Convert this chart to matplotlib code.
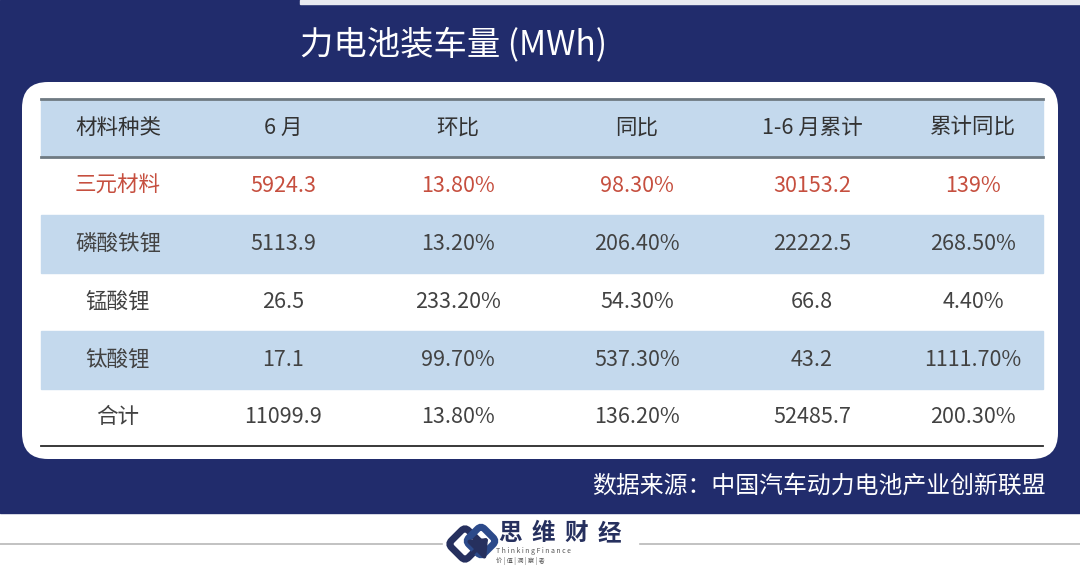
import matplotlib
matplotlib.use("Agg")
import matplotlib.pyplot as plt
from matplotlib.patches import Rectangle, FancyBboxPatch, FancyArrowPatch
from matplotlib.transforms import Affine2D

plt.rcParams['font.family'] = ['Noto Sans CJK SC', 'DejaVu Sans']

# table data
title = "力电池装车量 (MWh)"
headers = ["材料种类", "6 月", "环比", "同比", "1-6 月累计", "累计同比"]
materials = ["三元材料", "磷酸铁锂", "锰酸锂", "钛酸锂", "合计"]
june = ["5924.3", "5113.9", "26.5", "17.1", "11099.9"]
mom = ["13.80%", "13.20%", "233.20%", "99.70%", "13.80%"]
yoy = ["98.30%", "206.40%", "54.30%", "537.30%", "136.20%"]
ytd = ["30153.2", "22222.5", "66.8", "43.2", "52485.7"]
ytd_yoy = ["139%", "268.50%", "4.40%", "1111.70%", "200.30%"]
source = "数据来源：中国汽车动力电池产业创新联盟"
brand = "思维财经"

navy = "#212c6c"
light_blue = "#c4d9ed"
red = "#c64f3f"
text_gray = "#424242"

W, H = 1080, 568
fig = plt.figure(figsize=(W / 100, H / 100), dpi=100)
ax = fig.add_axes([0, 0, 1, 1])
ax.set_xlim(0, W)
ax.set_ylim(H, 0)
ax.axis("off")

# background
ax.add_patch(Rectangle((0, 0), W, 513, color=navy, zorder=0))
ax.add_patch(Rectangle((300, 0), W - 300, 4, color="#e8eaf0", zorder=1))

ax.text(300, 45, title, color="white", fontsize=24, ha="left", va="center")

# white rounded panel
ax.add_patch(FancyBboxPatch((22, 82), 1036, 377,
                            boxstyle="round,pad=0,rounding_size=26",
                            facecolor="white", edgecolor="none", zorder=1))

# table
left, right = 41, 1043
top, row_h = 99, 57.9
col_x = [118, 283, 458, 637, 812, 973]
columns = [materials, june, mom, yoy, ytd, ytd_yoy]
n_rows = len(materials) + 1

# header + every other row shaded
for i in range(0, n_rows, 2):
    ax.add_patch(Rectangle((left, top + i * row_h), right - left, row_h,
                           color=light_blue, zorder=2))

ax.plot([left, right], [top, top], color="#6f7a82", lw=2, zorder=3)
ax.plot([left, right], [top + row_h, top + row_h], color="#6f7a82", lw=2, zorder=3)
ax.plot([left, right], [top + n_rows * row_h, top + n_rows * row_h],
        color="#2a2a2a", lw=1.3, zorder=3)

for j, h in enumerate(headers):
    ax.text(col_x[j], top + row_h / 2, h, fontsize=15.5, color="#333333",
            ha="center", va="center", zorder=4)

for r in range(len(materials)):
    yc = top + (r + 1.5) * row_h
    c = red if r == 0 else text_gray
    for j, col in enumerate(columns):
        ax.text(col_x[j], yc, col[r], fontsize=15.5, color=c,
                ha="center", va="center", fontweight="light", zorder=4)

ax.text(1046, 486, source, color="white", fontsize=17.2, ha="right", va="center")

# footer logo strip
ax.plot([0, 442], [544, 544], color="#b8b8b8", lw=1.2)
ax.plot([640, W], [544, 544], color="#b8b8b8", lw=1.2)

logo_c = "#26305e"
ax.add_patch(FancyBboxPatch((453, 532), 24, 24, boxstyle="round,pad=0,rounding_size=5",
                            facecolor="none", edgecolor=logo_c, lw=5,
                            transform=Affine2D().rotate_deg_around(465, 544, 45) + ax.transData))
ax.add_patch(FancyBboxPatch((470, 530), 22, 22, boxstyle="round,pad=0,rounding_size=5",
                            facecolor="none", edgecolor="#2c4a8a", lw=5,
                            transform=Affine2D().rotate_deg_around(481, 541, 45) + ax.transData))
ax.add_patch(FancyArrowPatch((470, 556), (490, 536), arrowstyle="-|>,head_length=6,head_width=5",
                             color=logo_c, lw=3, mutation_scale=1.5))
for k, ch in enumerate(brand):
    ax.text(510 + k * 33, 533, ch, color=logo_c, fontsize=17, fontweight="bold",
            ha="center", va="center")
ax.text(496, 551, " ".join("ThinkingFinance"), color="#555555", fontsize=5,
        ha="left", va="center")
ax.text(496, 561, "价 | 值 | 洞 | 察 | 者", color="#555555", fontsize=4.5,
        ha="left", va="center")

fig.savefig("out.png", dpi=100)
